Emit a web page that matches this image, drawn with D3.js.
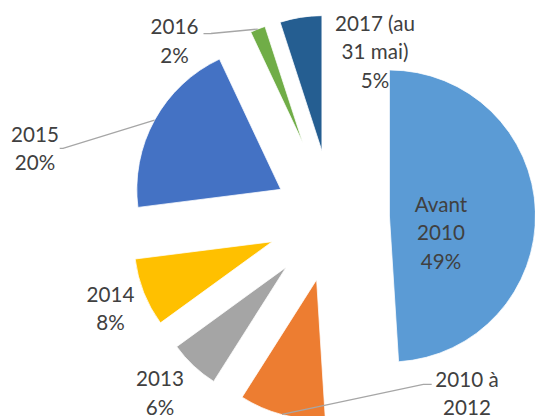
<!DOCTYPE html>
<html><head><meta charset="utf-8">
<script src="https://cdn.jsdelivr.net/npm/d3@7"></script>
<style>html,body{margin:0;padding:0;background:#fff;overflow:hidden}</style>
</head><body><svg id="chart" width="535" height="416"></svg>
<script>
// ---- data ----
const categories = ["Avant 2010", "2010 à 2012", "2013", "2014", "2015", "2016", "2017 (au 31 mai)"];
const values = [49, 10, 6, 8, 20, 2, 5];
const labelLines = [["Avant", "2010"], ["2010 à", "2012"], ["2013"], ["2014"], ["2015"], ["2016"], ["2017 (au", "31 mai)"]];
const showPercent = [true, false, true, true, true, true, true]; // the 2010 à 2012 percentage falls below the visible frame

// ---- styles ----
const colors = ["#5B9BD5", "#ED7D31", "#A5A5A5", "#FFC000", "#4472C4", "#70AD47", "#255E91"];
const explosion = [0.39, 0.46, 0.50, 0.47, 0.41, 0.66, 0.50];
const center = [332.5, 217.8];
const outerBound = 203;
const lineHeight = 28.7;
// label anchor (text centre x, first baseline y) relative to pie centre
const labelPos = [[108.5, -6.1], [134.5, 168.8], [-172.5, 168.2], [-222, 83.9], [-297.5, -76.1], [-158, -183.8], [42.5, -187.1]];
const leaderStart = [null, [99.2, 166.5], null, null, [-272.8, -69.5], [-129, -184.1], null];
const leaderElbow = [null, [90.8, 166.5], null, null, [-269.5, -69.5], [-121.5, -184.3], null];

const svg = d3.select("#chart");
const g = svg.append("g").attr("transform", `translate(${center[0]},${center[1]})`);

const pie = d3.pie().sort(null).value(d => d)(values);

pie.forEach((d, i) => {
  const e = explosion[i];
  const r = outerBound / (1 + e);
  const off = e * r;
  const mid = (d.startAngle + d.endAngle) / 2;
  const arc = d3.arc().innerRadius(0).outerRadius(r);
  g.append("path")
    .attr("d", arc(d))
    .attr("transform", `translate(${Math.sin(mid) * off},${-Math.cos(mid) * off})`)
    .attr("fill", colors[i])
    .attr("stroke", "#fff")
    .attr("stroke-width", 0.75);
});

// leader lines
pie.forEach((d, i) => {
  if (!leaderStart[i]) return;
  const mid = (d.startAngle + d.endAngle) / 2;
  const end = [Math.sin(mid) * outerBound, -Math.cos(mid) * outerBound];
  g.append("path")
    .attr("d", d3.line()([leaderStart[i], leaderElbow[i], end]))
    .attr("fill", "none")
    .attr("stroke", "#A6A6A6")
    .attr("stroke-width", 1.3);
});

// labels
pie.forEach((d, i) => {
  const lines = showPercent[i] ? labelLines[i].concat([values[i] + "%"]) : labelLines[i];
  const t = g.append("text")
    .attr("x", labelPos[i][0])
    .attr("y", labelPos[i][1])
    .attr("text-anchor", "middle")
    .attr("font-family", "Lato, 'Open Sans', sans-serif")
    .attr("font-size", 20.6)
    .attr("fill", "#404040");
  lines.forEach((s, k) => {
    t.append("tspan").attr("x", labelPos[i][0]).attr("dy", k === 0 ? 0 : lineHeight).text(s);
  });
});
</script>
</body></html>
